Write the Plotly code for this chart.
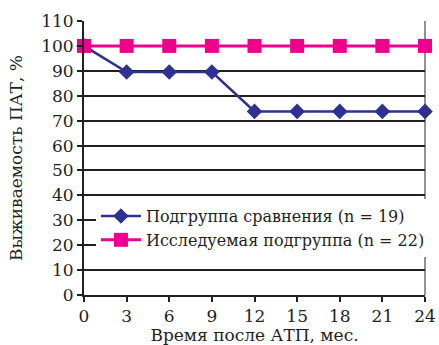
import plotly.graph_objects as go

months = [0, 3, 6, 9, 12, 15, 18, 21, 24]
comparison = [100, 89.5, 89.5, 89.5, 73.7, 73.7, 73.7, 73.7, 73.7]
study = [100, 100, 100, 100, 100, 100, 100, 100, 100]
y_ticks = list(range(0, 111, 10))

fig = go.Figure()
fig.add_trace(go.Scatter(
    x=months, y=comparison, mode="lines+markers",
    name="Подгруппа сравнения (n = 19)",
    line=dict(color="#2E3192", width=2.5),
    marker=dict(symbol="diamond", size=12, color="#2E3192"),
    cliponaxis=False,
))
fig.add_trace(go.Scatter(
    x=months, y=study, mode="lines+markers",
    name="Исследуемая подгруппа (n = 22)",
    line=dict(color="#EC008C", width=3),
    marker=dict(symbol="square", size=14, color="#EC008C"),
    cliponaxis=False,
))

font = "DejaVu Serif"
fig.update_layout(
    width=439, height=345,
    margin=dict(l=84, r=14, t=21, b=50, autoexpand=False),
    paper_bgcolor="white", plot_bgcolor="white",
    font=dict(family=font, color="#231F20", size=17),
    showlegend=True,
    legend=dict(
        x=0.035, y=0.35, xanchor="left", yanchor="top",
        bgcolor="white", borderwidth=0,
        font=dict(family=font, size=16, color="#231F20"),
        tracegroupgap=0, itemwidth=40,
    ),
    xaxis=dict(
        range=[0, 24], tickvals=months, ticks="outside", ticklen=5,
        tickwidth=2, tickcolor="#231F20",
        showline=True, linecolor="#231F20", linewidth=2,
        mirror=False, showgrid=False, zeroline=False,
        title=dict(text="Время после АТП, мес.", font=dict(family=font, size=17), standoff=10),
        tickfont=dict(family=font, size=17),
    ),
    yaxis=dict(
        range=[0, 110], tickvals=y_ticks, ticks="outside", ticklen=5,
        tickwidth=2, tickcolor="#231F20",
        showline=True, linecolor="#231F20", linewidth=2,
        showgrid=True, gridcolor="#231F20", gridwidth=2, zeroline=False,
        title=dict(text="Выживаемость ПАТ, %", font=dict(family=font, size=17), standoff=14),
        tickfont=dict(family=font, size=17),
    ),
)
# thin right border of the plot area
fig.add_shape(type="line", xref="paper", yref="paper", x0=1, x1=1, y0=0, y1=1,
              line=dict(color="#6D6E71", width=1.5), layer="below")

fig.write_html("out.html")
